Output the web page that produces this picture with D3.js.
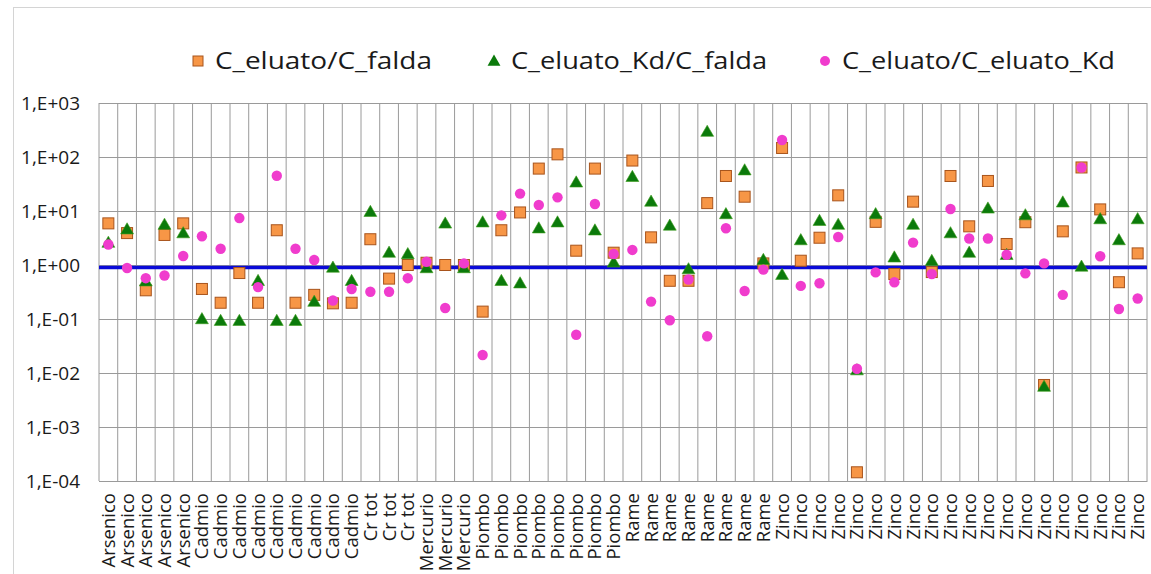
<!DOCTYPE html>
<html>
<head>
<meta charset="utf-8">
<script src="https://cdn.jsdelivr.net/npm/d3@7"></script>
<style>
  body { margin: 0; background: #fff; }
  text { font-family: "Open Sans", "DejaVu Sans", sans-serif; fill: #1a1a1a; }
</style>
</head>
<body>
<svg id="chart" width="1151" height="574"></svg>
<script>
// categories along the x axis (one column each)
const categories = [
  "Arsenico", "Arsenico", "Arsenico", "Arsenico", "Arsenico",
  "Cadmio", "Cadmio", "Cadmio", "Cadmio", "Cadmio", "Cadmio", "Cadmio", "Cadmio", "Cadmio",
  "Cr tot", "Cr tot", "Cr tot",
  "Mercurio", "Mercurio", "Mercurio",
  "Piombo", "Piombo", "Piombo", "Piombo", "Piombo", "Piombo", "Piombo", "Piombo",
  "Rame", "Rame", "Rame", "Rame", "Rame", "Rame", "Rame", "Rame",
  "Zinco", "Zinco", "Zinco", "Zinco", "Zinco", "Zinco", "Zinco", "Zinco", "Zinco", "Zinco",
  "Zinco", "Zinco", "Zinco", "Zinco", "Zinco", "Zinco", "Zinco", "Zinco", "Zinco", "Zinco"
];

// C_eluato/C_falda (orange squares)
const eluatoFalda = [
  5.9, 3.9, 0.34, 3.6, 5.9,
  0.36, 0.20, 0.71, 0.20, 4.4, 0.20, 0.28, 0.195, 0.20,
  3.0, 0.56, 1.0,
  1.1, 1.0, 1.0,
  0.137, 4.4, 9.4, 61, 112, 1.84, 61, 1.69,
  86, 3.25, 0.51, 0.51, 14, 44.5, 18.4, 1.07,
  147, 1.2, 3.2, 19.5, 0.000145, 6.3, 0.68, 14.9, 0.74, 44.5,
  5.2, 36, 2.45, 6.2, 0.006, 4.2, 64, 10.7, 0.48, 1.64
];

// C_eluato_Kd/C_falda (green triangles)
const eluatoKdFalda = [
  2.6, 4.6, 0.5, 5.6, 3.9,
  0.10, 0.093, 0.093, 0.51, 0.093, 0.093, 0.21, 0.9, 0.51,
  9.7, 1.7, 1.6,
  0.88, 5.9, 0.88,
  6.2, 0.51, 0.46, 4.8, 6.2, 34, 4.4, 1.12,
  43, 15, 5.4, 0.84, 295, 8.8, 57, 1.25,
  0.66, 2.9, 6.6, 5.6, 0.0113, 8.8, 1.39, 5.6, 1.2, 3.9,
  1.7, 11.2, 1.55, 8.4, 0.0056, 14.5, 0.94, 7.1, 2.9, 7.1
];

// C_eluato/C_eluato_Kd (pink circles)
const eluatoEluatoKd = [
  2.4, 0.88, 0.57, 0.64, 1.47,
  3.4, 2.0, 7.4, 0.39, 45, 2.0, 1.24, 0.22, 0.36,
  0.32, 0.32, 0.57,
  1.15, 0.16, 1.07,
  0.0215, 8.3, 21, 12.9, 17.9, 0.051, 13.5, 1.6,
  1.9, 0.21, 0.095, 0.54, 0.048, 4.8, 0.33, 0.82,
  206, 0.41, 0.46, 3.3, 0.012, 0.73, 0.48, 2.6, 0.68, 10.9,
  3.1, 3.1, 1.55, 0.70, 1.07, 0.28, 64, 1.45, 0.153, 0.24
];

const seriesNames = ["C_eluato/C_falda", "C_eluato_Kd/C_falda", "C_eluato/C_eluato_Kd"];
const yTicks = [1e-4, 1e-3, 1e-2, 1e-1, 1e0, 1e1, 1e2, 1e3];
const yTickLabels = ["1,E-04", "1,E-03", "1,E-02", "1,E-01", "1,E+00", "1,E+01", "1,E+02", "1,E+03"];
const refValue = 0.9;

const svg = d3.select("#chart");
const margin = { top: 103, right: 4, bottom: 93, left: 99 };
const width = 1151 - margin.left - margin.right;
const height = 574 - margin.top - margin.bottom;

// outer chart frame
svg.append("rect")
  .attr("x", 13.5).attr("y", 7.5)
  .attr("width", 1160).attr("height", 600)
  .attr("fill", "none")
  .attr("stroke", "#d4d4d4");

const x = d3.scaleBand().domain(d3.range(categories.length)).range([0, width]);
const y = d3.scaleLog().domain([1e-4, 1e3]).range([height, 0]);

const g = svg.append("g")
  .attr("transform", "translate(" + margin.left + "," + margin.top + ")");

// horizontal gridlines + y labels
g.append("g")
  .call(d3.axisLeft(y).tickValues(yTicks).tickSize(-width)
    .tickFormat((d, i) => yTickLabels[i]))
  .call(a => a.select(".domain").remove())
  .call(a => a.selectAll("line").attr("stroke", "#9a9a9a"))
  .call(a => a.selectAll("text")
    .attr("x", -19)
    .style("font-size", "19px")
    .style("font-family", "'Open Sans', sans-serif")
    .attr("fill", "#1a1a1a"));

// vertical gridlines at category boundaries
g.append("g")
  .selectAll("line")
  .data(d3.range(categories.length + 1))
  .join("line")
  .attr("x1", d => d < categories.length ? x(d) : width)
  .attr("x2", d => d < categories.length ? x(d) : width)
  .attr("y1", 0).attr("y2", height)
  .attr("stroke", "#9a9a9a");

// x axis labels
g.append("g")
  .attr("transform", "translate(0," + height + ")")
  .call(d3.axisBottom(x).tickSize(0).tickFormat(i => categories[i]))
  .call(a => a.select(".domain").attr("stroke", "#9a9a9a"))
  .call(a => a.selectAll("text")
    .attr("transform", "rotate(-90)")
    .attr("x", -12).attr("y", 0).attr("dy", "0.35em")
    .attr("text-anchor", "end")
    .style("font-size", "18.5px")
    .style("font-family", "'Open Sans', sans-serif")
    .attr("fill", "#1a1a1a"));

// reference line
g.append("line")
  .attr("x1", 0).attr("x2", width)
  .attr("y1", y(refValue)).attr("y2", y(refValue))
  .attr("stroke", "#0a0ad8")
  .attr("stroke-width", 3.5);

const cx = i => x(i) + x.bandwidth() / 2;
const tri = d3.symbol().type(d3.symbolTriangle).size(72);

g.append("g").selectAll("rect")
  .data(eluatoFalda)
  .join("rect")
  .attr("x", (d, i) => cx(i) - 5.5)
  .attr("y", d => y(d) - 5.5)
  .attr("width", 11).attr("height", 11)
  .attr("fill", "#f79646")
  .attr("stroke", "#a8541c")
  .attr("stroke-width", 1);

g.append("g").selectAll("path")
  .data(eluatoKdFalda)
  .join("path")
  .attr("d", tri)
  .attr("transform", (d, i) => "translate(" + cx(i) + "," + (y(d) + 1) + ")")
  .attr("fill", "#0b7a0b")
  .attr("stroke", "#3a9a1a")
  .attr("stroke-width", 0.6);

g.append("g").selectAll("circle")
  .data(eluatoEluatoKd)
  .join("circle")
  .attr("cx", (d, i) => cx(i))
  .attr("cy", d => y(d))
  .attr("r", 5.2)
  .attr("fill", "#f03ccd");

// legend
const legend = svg.append("g").attr("transform", "translate(0,61)");
const legendX = [198, 494, 825];
const legendLen = [217, 256, 273];
legend.append("rect").attr("x", legendX[0] - 5).attr("y", -5).attr("width", 10).attr("height", 10)
  .attr("fill", "#f79646").attr("stroke", "#a8541c");
legend.append("path").attr("d", tri).attr("transform", "translate(" + legendX[1] + ",1)")
  .attr("fill", "#0b7a0b");
legend.append("circle").attr("cx", legendX[2]).attr("cy", 0).attr("r", 5).attr("fill", "#f03ccd");
legend.selectAll("text.lg")
  .data(seriesNames)
  .join("text")
  .attr("class", "lg")
  .attr("x", (d, i) => legendX[i] + 17)
  .attr("y", 0)
  .attr("dy", "0.35em")
  .attr("textLength", (d, i) => legendLen[i])
  .attr("lengthAdjust", "spacingAndGlyphs")
  .style("font-size", "24px")
  .text(d => d);
</script>
</body>
</html>
